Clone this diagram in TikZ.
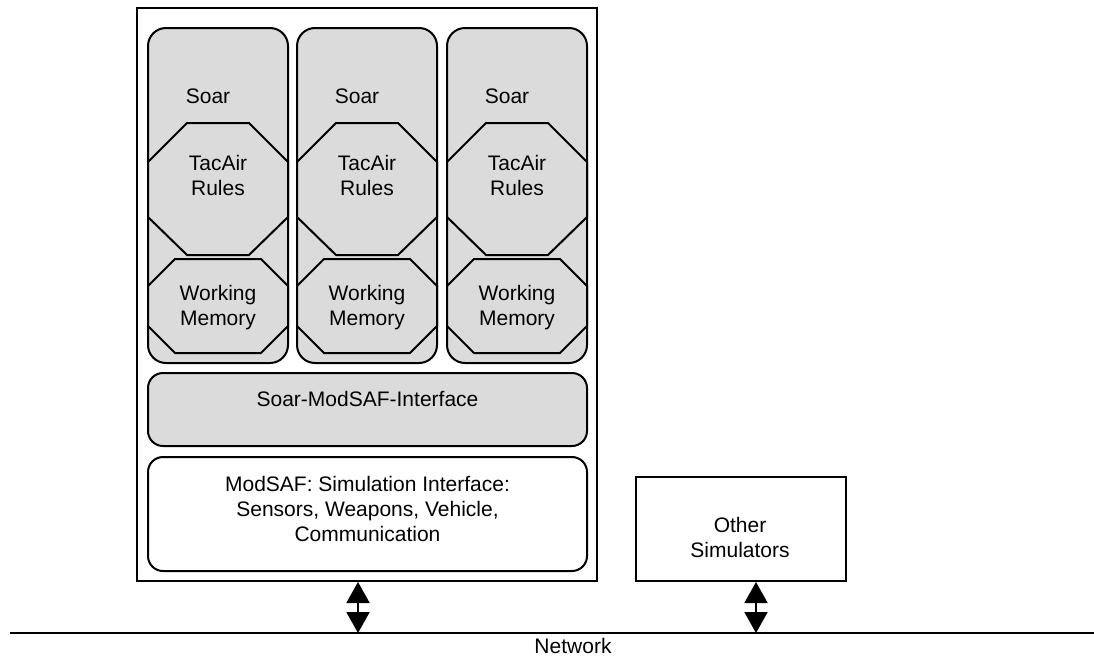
\documentclass[tikz,border=0pt]{standalone}
\usepackage{fontspec}
\setmainfont{Liberation Sans}
\usetikzlibrary{arrows.meta,positioning,calc}

\begin{document}
\begin{tikzpicture}[x=1pt, y=-1pt, line width=2pt,
  >={Triangle[width=23pt,length=21pt]},
  font=\fontsize{21pt}{25pt}\selectfont,
  graybox/.style={draw, rounded corners=15pt, fill=black!14},
  octa/.style={draw, fill=black!14}]
  \useasboundingbox (0,0) rectangle (1094,662);

  % machine with the agents
  \node[draw, minimum width=460pt, minimum height=573pt] (host) at (367,294.5) {};

  % three Soar agents
  \foreach \i/\x in {1/218,2/367,3/517} {
    \node[graybox, rounded corners=18pt, minimum width=140pt, minimum height=335pt] (soar\i) at (\x,195.5) {};
    \draw[octa] (\x-70,162) -- (\x-31,123) -- (\x+31,123) -- (\x+70,162) -- (\x+70,217)
      -- (\x+31,255) -- (\x-31,255) -- (\x-70,217) -- cycle;
    \draw[octa] (\x-70,286) -- (\x-43,259) -- (\x+43,259) -- (\x+70,286) -- (\x+70,326)
      -- (\x+43,353) -- (\x-43,353) -- (\x-70,326) -- cycle;
    \node[anchor=base] (soarlbl\i) at (\x-10,103) {Soar};
    \node[align=center] (rules\i) at (\x,175) {TacAir\\Rules};
    \node[align=center] (wm\i) at (\x,308) {Working\\Memory};
  }

  \node[graybox, minimum width=439pt, minimum height=73pt] (iface) at (367.5,409.5) {};
  \node[anchor=base] (ifacelbl) at (367.5,406) {Soar-ModSAF-Interface};

  \node[draw, rounded corners=15pt, fill=white, minimum width=439pt, minimum height=114pt] (modsaf) at (367.5,514) {};
  \node[align=center] (modsaflbl) at (367.5,509) {ModSAF: Simulation Interface:\\Sensors, Weapons, Vehicle,\\Communication};

  \node[draw, minimum width=210pt, minimum height=104pt] (others) at (741,529) {};
  \node[align=center] (otherslbl) at (740,537) {Other\\Simulators};

  % network
  \coordinate (netL) at (10,633);
  \coordinate (netR) at (1094,633);
  \draw[line width=2.5pt] (netL) -- (netR);
  \node[anchor=base] (netlbl) at (573,653) {Network};

  \coordinate (tap1) at (358,633);
  \coordinate (tap2) at (756,633);
  \draw[<->] (host.south -| tap1) -- (tap1);
  \draw[<->] (others.south -| tap2) -- (tap2);
\end{tikzpicture}
\end{document}
